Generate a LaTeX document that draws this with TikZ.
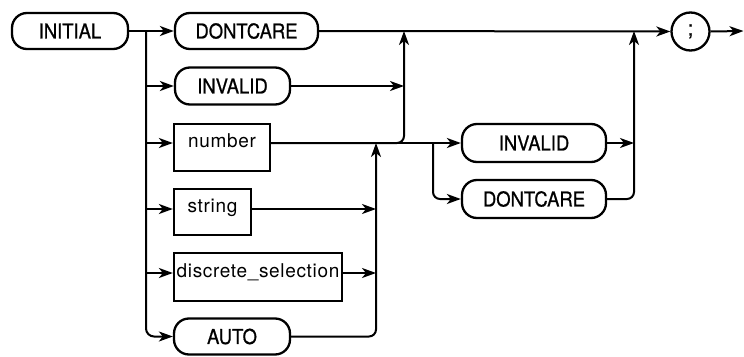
\documentclass[tikz,border=0pt]{standalone}
\usepackage{fontspec}
\setmainfont{TeX Gyre Heros}
\newfontfamily\lcfont[LetterSpace=3.5]{TeX Gyre Heros}
\newfontfamily\ucfont[FakeStretch=0.9,FakeBold=0.8]{TeX Gyre Heros}
\usetikzlibrary{arrows.meta,calc}
\begin{document}
\begin{tikzpicture}[x=1pt,y=-1pt,
  conn/.style={line width=2pt,-{Stealth[length=14pt,width=10pt,inset=4pt]}},
  pill/.style={draw,line width=2.3pt,rounded corners=15pt,minimum height=36pt,inner sep=0pt,font=\ucfont\fontsize{20.5}{22}\selectfont},
  rbox/.style={draw,line width=2.3pt,inner xsep=0pt,inner ysep=0pt,text height=23.5pt,text depth=23.5pt,font=\lcfont\fontsize{19}{20}\selectfont},
  term/.style={draw,circle,line width=2.3pt,minimum size=38pt,inner sep=0pt,font=\ucfont\fontsize{21}{22}\selectfont}
]
\useasboundingbox (0,0) rectangle (744,356);

% nodes
\node[pill,minimum width=116pt] (initial) at (70,31) {INITIAL};
\node[pill,minimum width=143pt] (dc1) at (246.5,31) {DONTCARE};
\node[pill,minimum width=115pt,minimum height=37pt] (inv1) at (232.5,86) {INVALID};
\node[rbox,minimum width=96pt] (num) at (222,147.5) {number};
\node[rbox,minimum width=77pt,text height=23pt,text depth=23pt] (str) at (212.5,212) {string};
\node[rbox,minimum width=168pt,text height=24pt,text depth=24pt] (disc) at (258,277) {discrete\_selection};
\node[pill,minimum width=116pt,minimum height=36pt] (auto) at (232,336.5) {AUTO};
\node[pill,minimum width=144pt,minimum height=38pt] (inv2) at (534,143) {INVALID};
\node[pill,minimum width=144pt,minimum height=38pt] (dc2) at (534,199) {DONTCARE};
\node[term] (semi) at (690.5,31.5) {;};

% junction coordinates
\coordinate (L) at (146,31);
\coordinate (A) at (376,143);
\coordinate (B) at (404,31);
\coordinate (C) at (433,143);
\coordinate (D) at (634,31);
\coordinate (rN) at (0,143);
\coordinate (rS) at (0,209);
\coordinate (rD) at (0,273);
\coordinate (exit) at (743.5,31);

% connectors
\draw[conn] (initial.east) -- (dc1.west);
\draw[conn,rounded corners=8pt] (L) |- (auto.west);
\draw[conn] (L |- inv1.west) -- (inv1.west);
\draw[conn] (L |- rN) -- (num.west |- rN);
\draw[conn] (L |- rS) -- (str.west |- rS);
\draw[conn] (L |- rD) -- (disc.west |- rD);

\draw[conn] (dc1.east) -- (semi.west);
\draw[conn] (semi.east) -- (exit);

\draw[conn] (inv1.east) -- (B |- inv1.east);
\draw[conn,rounded corners=7pt] (num.east |- rN) -| (B);
\draw[conn] (num.east |- rN) -- (inv2.west);
\draw[conn,rounded corners=7pt] (C) |- (dc2.west);

\draw[conn] (str.east |- rS) -- (A |- rS);
\draw[conn] (disc.east |- rD) -- (A |- rD);
\draw[conn,rounded corners=7pt] (auto.east) -| (A);

\draw[conn] (inv2.east) -- (D |- inv2.east);
\draw[conn,rounded corners=7pt] (dc2.east) -| (D);
\end{tikzpicture}
\end{document}
